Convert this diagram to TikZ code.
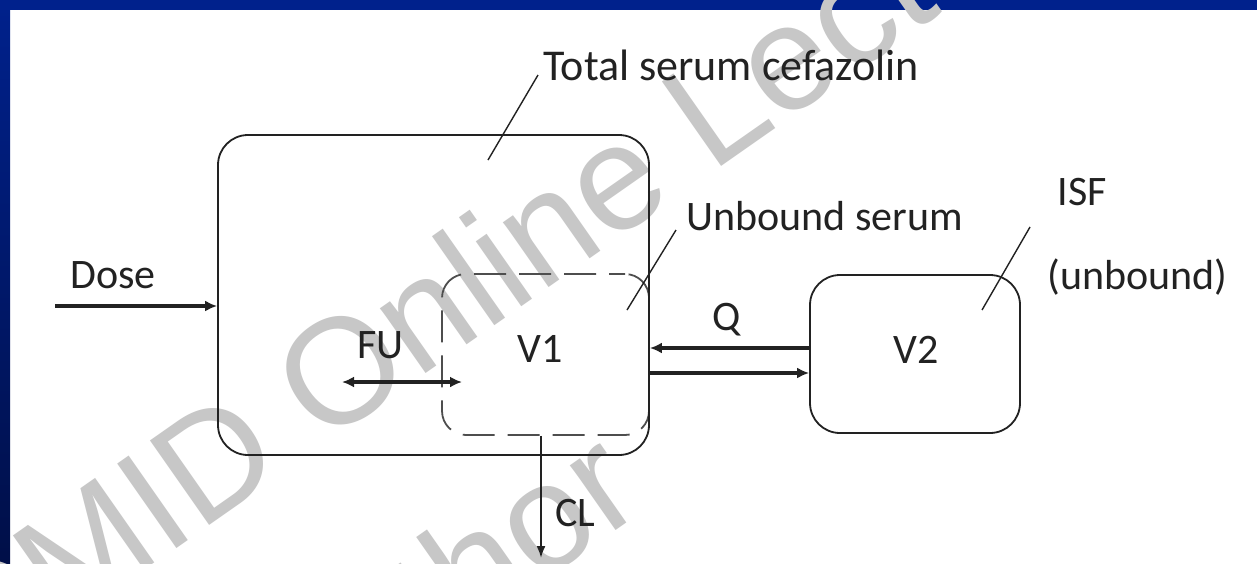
\documentclass[tikz,border=0pt]{standalone}
\usepackage{fontspec}
\setmainfont{Carlito}
\newfontfamily\wmfont{Liberation Sans}
\usetikzlibrary{arrows.meta,calc}
\definecolor{frameblue}{HTML}{00218C}
\definecolor{framedark}{HTML}{000F48}
\definecolor{ink}{HTML}{222222}
\begin{document}
\begin{tikzpicture}[x=0.5pt,y=-0.5pt,
  box/.style={draw=ink, line width=0.9pt, rounded corners=15pt, inner sep=0pt},
  dbox/.style={draw=ink!80, line width=0.9pt, rounded corners=12pt, inner sep=0pt, dash pattern=on 16pt off 6.5pt, dash phase=8pt},
  lbl/.style={font=\fontsize{21}{25}\selectfont, text=ink, inner sep=0pt},
  thickarrow/.style={draw=ink, line width=2pt, -{Latex[length=6pt,width=5.5pt]}},
  thinarrow/.style={draw=ink, line width=1pt, -{Latex[length=6pt,width=4.5pt]}},
  leader/.style={draw=ink, line width=0.7pt},
  wm/.style={font=\wmfont\fontsize{75}{80}\selectfont, text=black!22, rotate=35, inner sep=0pt, anchor=base west}
]
% background and frame
\fill[white] (0,0) rectangle (1257,563);
\useasboundingbox (0,0) rectangle (1257,563);
\shade[top color=frameblue, bottom color=framedark] (0,0) rectangle (10,563);
\fill[frameblue] (0,0) rectangle (1257,10);

% watermark
\node[wm] (wm1) at (-190,805) {ESCMID Online Lecture Library};
\node[wm] (wm2) at (11,954) {\textcopyright{} by author};

% compartments
\node[dbox, minimum width=103.5pt, minimum height=80.5pt] (unbound) at (545.5,354.5) {};
\node[box, minimum width=215.5pt, minimum height=160pt] (total) at (433.5,295) {};
\node[box, minimum width=105pt, minimum height=79pt] (v2) at (915,354) {};

% labels
\node[lbl, anchor=base west, font=\fontsize{22}{26}\selectfont] (ttot) at (543,80) {Total serum cefazolin};
\node[lbl, anchor=base west] (tunb) at (686,230) {Unbound serum};
\node[lbl, anchor=base west] (tisf) at (1057,205) {ISF};
\node[lbl, anchor=base west] (tisfu) at (1047,289) {(unbound)};
\node[lbl, anchor=base west] (tdose) at (70,288) {Dose};
\node[lbl, anchor=base west] (tfu) at (357,358) {FU};
\node[lbl, anchor=base west] (tv1) at (517,362) {V1};
\node[lbl, anchor=base west] (tq) at (712,330) {Q};
\node[lbl, anchor=base west] (tv2) at (893,363) {V2};
\node[lbl, anchor=base west] (tcl) at (555,526) {CL};

% leader lines
\coordinate (lt1) at (488,160); \coordinate (lt2) at (538,75);
\draw[leader] (lt1) -- (lt2);
\coordinate (lu1) at (627,310); \coordinate (lu2) at (676,230);
\draw[leader] (lu1) -- (lu2);
\coordinate (li1) at (982,310); \coordinate (li2) at (1030,227);
\draw[leader] (li1) -- (li2);

% arrows
\coordinate (dose0) at (55,306);
\draw[thickarrow] (dose0) -- (dose0 -| total.west);
\coordinate (fu0) at (342,382); \coordinate (fu1) at (462,382);
\draw[thickarrow, {Latex[length=6pt,width=5.5pt]}-{Latex[length=6pt,width=5.5pt]}] (fu0) -- (fu1);
\coordinate (qa) at (0,348); \coordinate (qb) at (0,373);
\draw[thickarrow] (qa -| v2.west) -- (qa -| total.east);
\draw[thickarrow] (qb -| total.east) -- (qb -| v2.west);
\coordinate (clend) at (541,558);
\draw[thinarrow] (clend |- unbound.south) -- (clend);
\end{tikzpicture}
\end{document}
